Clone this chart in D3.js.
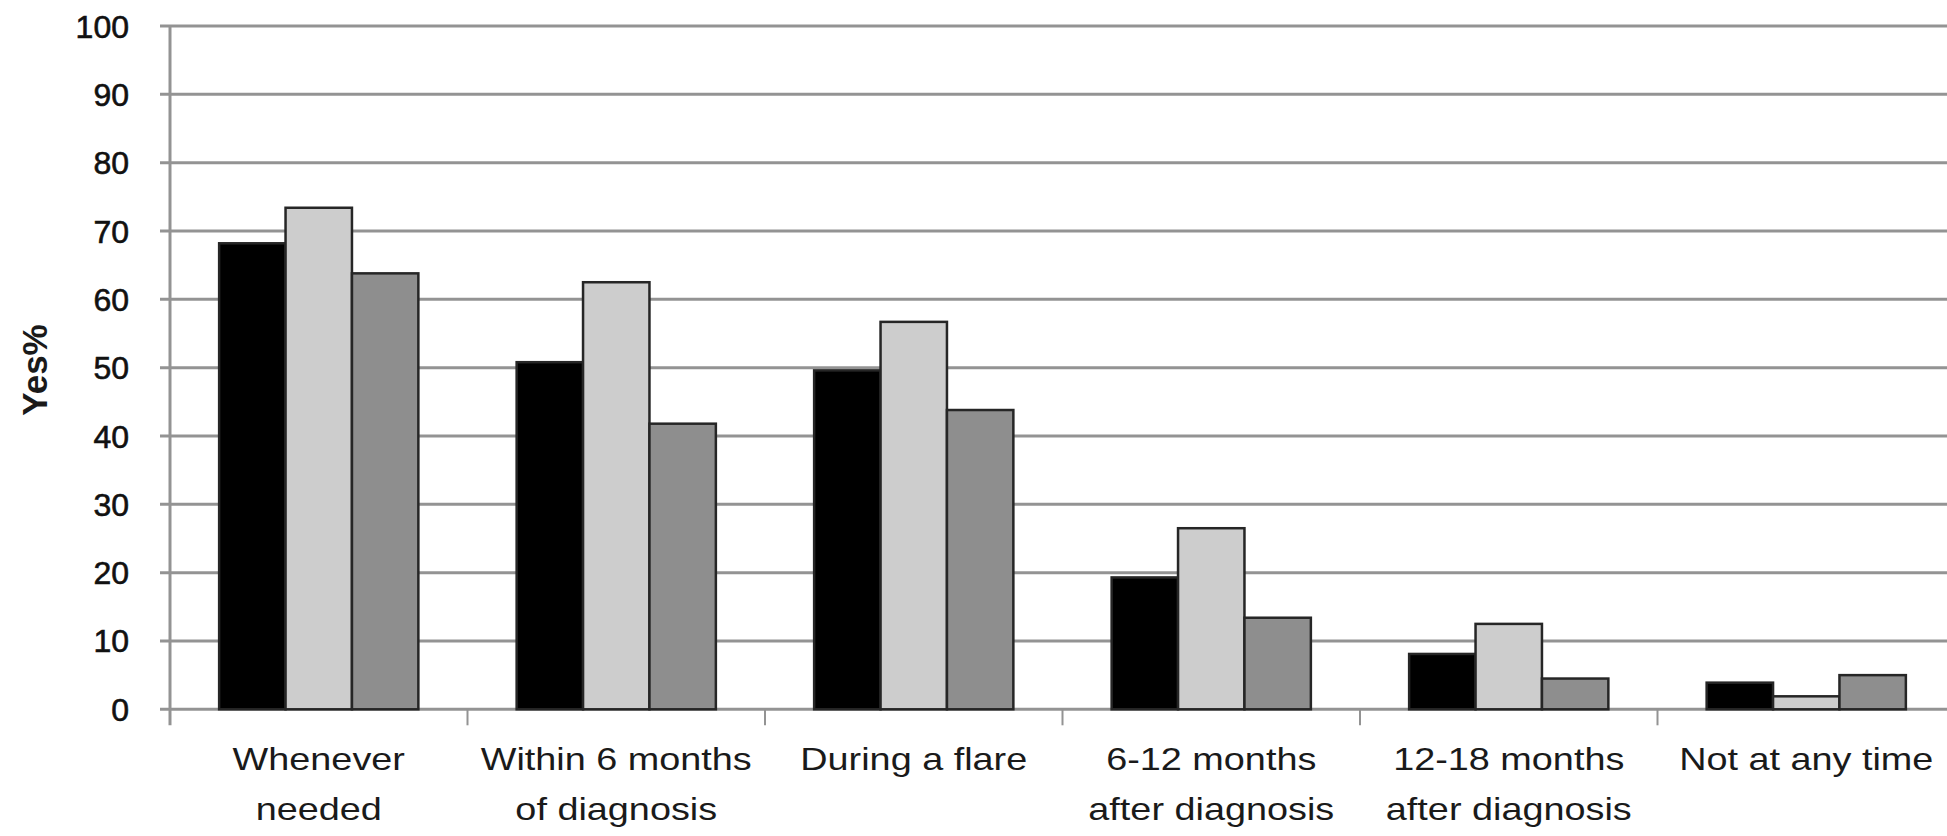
<!DOCTYPE html>
<html>
<head>
<meta charset="utf-8">
<script src="https://cdn.jsdelivr.net/npm/d3@7"></script>
<style>
  html, body { margin: 0; padding: 0; background: #fff; overflow: hidden; }
  svg { display: block; }
</style>
</head>
<body>
<svg id="chart" width="1947" height="836"></svg>
<script>
// ---- data ----
const categories = [
  "Whenever needed",
  "Within 6 months of diagnosis",
  "During a flare",
  "6-12 months after diagnosis",
  "12-18 months after diagnosis",
  "Not at any time"
];
const categoryLines = [
  ["Whenever", "needed"],
  ["Within 6 months", "of diagnosis"],
  ["During a flare"],
  ["6-12 months", "after diagnosis"],
  ["12-18 months", "after diagnosis"],
  ["Not at any time"]
];
const seriesNames = ["Series 1", "Series 2", "Series 3"];
const series1 = [68.2, 50.8, 49.6, 19.3, 8.1, 3.9];
const series2 = [73.4, 62.5, 56.7, 26.5, 12.5, 1.9];
const series3 = [63.8, 41.8, 43.8, 13.4, 4.5, 5.0];
const yTicks = [0, 10, 20, 30, 40, 50, 60, 70, 80, 90, 100];
const yLabel = "Yes%";

// ---- layout ----
const svg = d3.select("#chart");
const mLeft = 170, mTop = 26, mBottom = 709.3, mRight = 170 + 6 * 297.5;
const colors = ["#000000", "#cdcdcd", "#8e8e8e"];

const x0 = d3.scaleBand().domain(categories).range([mLeft, mRight]).paddingInner(0).paddingOuter(0);
const x1 = d3.scaleBand().domain(seriesNames).range([0, x0.bandwidth()]).paddingInner(0).paddingOuter(0.74);
const y = d3.scaleLinear().domain([0, 100]).range([mBottom, mTop]);

const allSeries = [series1, series2, series3];
const rows = categories.map((c, i) => ({ cat: c, vals: seriesNames.map((s, j) => ({ s, v: allSeries[j][i], j })) }));

// gridlines
svg.append("g")
  .selectAll("line")
  .data(yTicks)
  .join("line")
  .attr("x1", mLeft - 10)
  .attr("x2", 1947)
  .attr("y1", d => y(d))
  .attr("y2", d => y(d))
  .attr("stroke", "#939393")
  .attr("stroke-width", 3);

// y axis line
svg.append("line")
  .attr("x1", mLeft).attr("x2", mLeft)
  .attr("y1", mTop).attr("y2", mBottom + 16)
  .attr("stroke", "#939393").attr("stroke-width", 3);

// x ticks at band boundaries
svg.append("g")
  .selectAll("line")
  .data(categories.slice(1))
  .join("line")
  .attr("x1", d => x0(d)).attr("x2", d => x0(d))
  .attr("y1", mBottom).attr("y2", mBottom + 16)
  .attr("stroke", "#939393").attr("stroke-width", 2);

// bars
svg.append("g")
  .selectAll("g")
  .data(rows)
  .join("g")
  .attr("transform", d => `translate(${x0(d.cat)},0)`)
  .selectAll("rect")
  .data(d => d.vals)
  .join("rect")
  .attr("x", d => x1(d.s))
  .attr("width", x1.bandwidth())
  .attr("y", d => y(d.v))
  .attr("height", d => y(0) - y(d.v))
  .attr("fill", d => colors[d.j])
  .attr("stroke", "#262626")
  .attr("stroke-width", 2.5);

// y tick labels
svg.append("g")
  .selectAll("text")
  .data(yTicks)
  .join("text")
  .attr("x", 129)
  .attr("y", d => y(d))
  .attr("dy", "0.36em")
  .attr("text-anchor", "end")
  .attr("font-family", "Liberation Sans, Arial, sans-serif")
  .attr("font-size", 32)
  .attr("fill", "#111")
  .attr("stroke", "#111")
  .attr("stroke-width", 0.6)
  .text(d => d);

// y axis title
svg.append("text")
  .attr("transform", `translate(47,370) rotate(-90)`)
  .attr("text-anchor", "middle")
  .attr("font-family", "Liberation Sans, Arial, sans-serif")
  .attr("font-size", 35)
  .attr("font-weight", "bold")
  .attr("fill", "#1a1a1a")
  .text(yLabel);

// x labels
const xl = svg.append("g")
  .selectAll("g")
  .data(categories)
  .join("g")
  .attr("transform", d => `translate(${x0(d) + x0.bandwidth() / 2},0) scale(1.22,1)`);
xl.selectAll("text")
  .data((d, i) => categoryLines[i])
  .join("text")
  .attr("x", 0)
  .attr("y", (d, i) => 770 + i * 50)
  .attr("text-anchor", "middle")
  .attr("font-family", "Liberation Sans, Arial, sans-serif")
  .attr("font-size", 31)
  .attr("fill", "#1a1a1a")
  .text(d => d);
</script>
</body>
</html>
